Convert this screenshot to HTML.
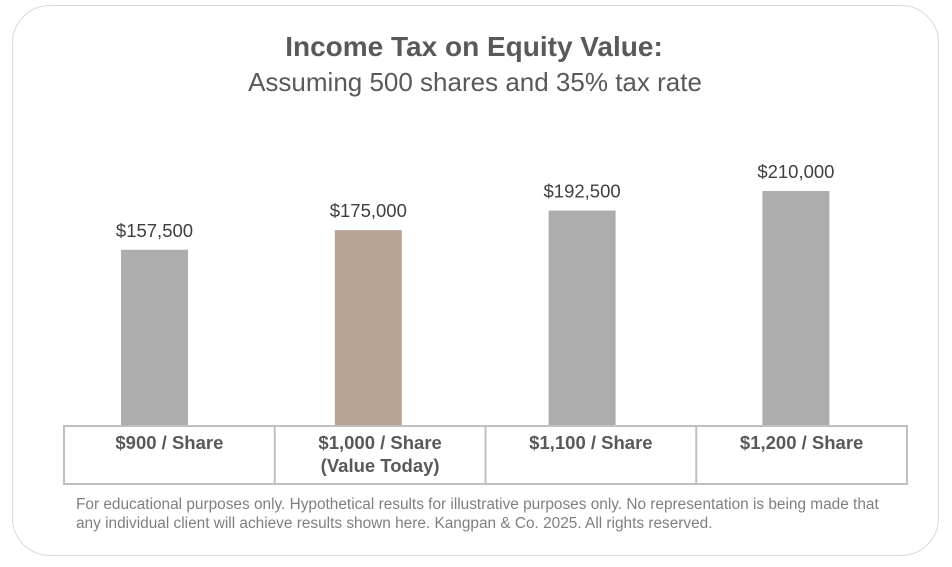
<!DOCTYPE html>
<html><head><meta charset="utf-8">
<style>
body{margin:0;width:952px;height:567px;background:#fff;font-family:"Liberation Sans",sans-serif;position:relative;overflow:hidden}
.card{position:absolute;left:12px;top:5px;width:927px;height:551px;border:1px solid #d9d9d9;border-radius:38px;box-sizing:border-box}
.t{position:absolute;left:0;width:952px;text-align:center;color:#595959}
.foot{position:absolute;left:76px;top:496px;font-size:15.4px;line-height:18.5px;color:#7f7f7f;width:805px}
</style></head><body>
<div class="card"></div>
<div class="t" style="top:31px;font-size:28px;font-weight:bold;left:-2px">Income Tax on Equity Value:</div>
<div class="t" style="top:67px;font-size:26px;left:-1px">Assuming 500 shares and 35% tax rate</div>
<svg id="chart" width="952" height="567" style="position:absolute;left:0;top:0"></svg>
<div class="foot">For educational purposes only. Hypothetical results for illustrative purposes only. No representation is being made that any individual client will achieve results shown here. Kangpan &amp; Co. 2025. All rights reserved.</div>
<script>
const categories=["$900 / Share","$1,000 / Share|(Value Today)","$1,100 / Share","$1,200 / Share"];
const values=[157500,175000,192500,210000];
const valueLabels=["$157,500","$175,000","$192,500","$210,000"];
const highlight=[false,true,false,false];
const NS="http://www.w3.org/2000/svg";
const svg=document.getElementById('chart');
const baseY=426, scale=235/210000, left=64, colW=(907-64)/4, barW=67;
const y=v=>baseY-v*scale;
const xc=i=>left+colW*(i+0.5);
const xb=i=>154.5+213.8*i;
function mk(t,a){const e=document.createElementNS(NS,t);for(const k in a)e.setAttribute(k,a[k]);svg.appendChild(e);return e;}
values.forEach((v,i)=>{
  const r=mk('rect',{x:xb(i)-barW/2,y:y(v),width:barW,height:baseY-y(v),fill:highlight[i]?'#b8a596':'#adadad'});
  
  
  const t=mk('text',{x:xb(i),y:y(v)-13,'text-anchor':'middle','font-size':'18.5','fill':'#404040','font-family':'Liberation Sans, sans-serif'});
  t.textContent=valueLabels[i];
  
  
});
const tb=mk('rect',{x:left,y:baseY,width:907-left,height:58,fill:'none',stroke:'#bfbfbf','stroke-width':'2'});


for(let i=1;i<4;i++){const l=mk('line',{x1:left+colW*i,x2:left+colW*i,y1:baseY,y2:baseY+58,stroke:'#bfbfbf','stroke-width':'2'});

}
categories.forEach((c,i)=>{
  c.split('|').forEach((line,j)=>{
    const t=mk('text',{x:xc(i),y:449+j*23,'text-anchor':'middle','font-size':'18.5','font-weight':'bold','fill':'#595959','font-family':'Liberation Sans, sans-serif'});
    t.textContent=line;
    
    
  });
});
</script>
</body></html>
